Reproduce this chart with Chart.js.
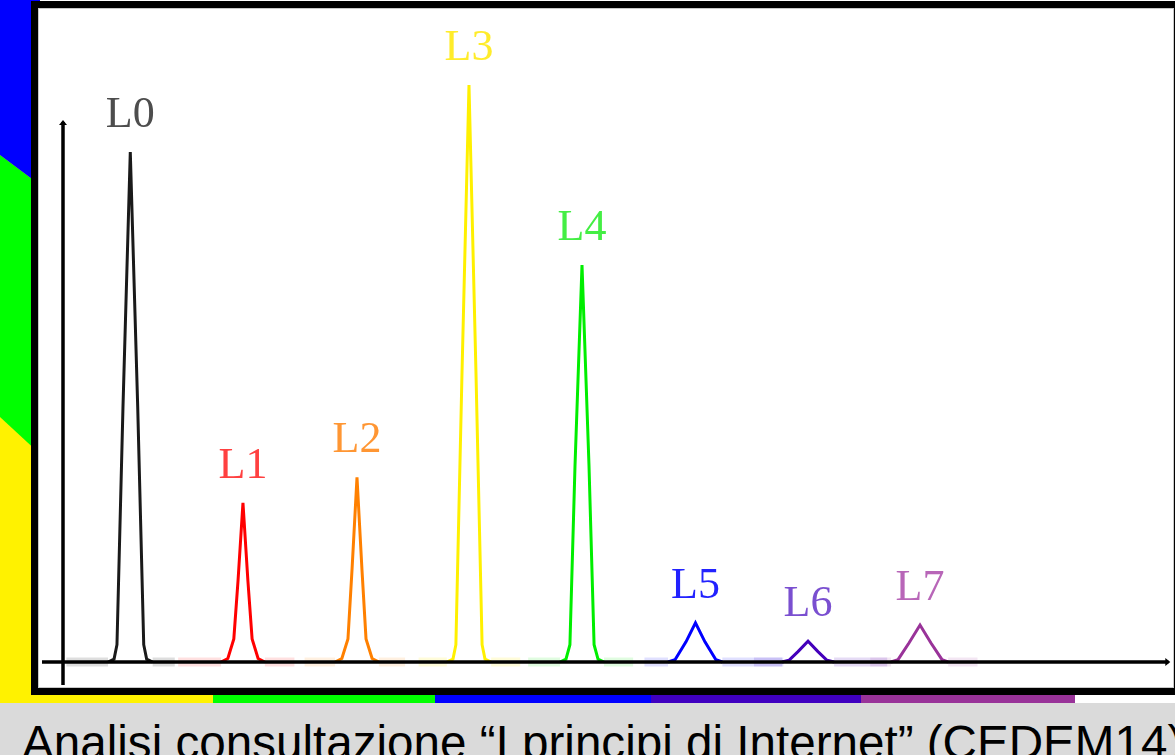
<!DOCTYPE html>
<html>
<head>
<meta charset="utf-8">
<script src="https://cdn.jsdelivr.net/npm/chart.js@4.4.1/dist/chart.umd.min.js"></script>
<style>
  html, body { margin: 0; padding: 0; }
  body { width: 1175px; height: 755px; position: relative; overflow: hidden; background: #fff; }
  .strip { position: absolute; }
  #leftYellow { left: 0; top: 0; width: 40px; height: 703px; background: #fff200; }
  #leftGreen { left: 0; top: 0; width: 40px; height: 703px; background: #00ff00;
    clip-path: polygon(0 155px, 40px 185px, 40px 454px, 0 417px); }
  #leftBlue { left: 0; top: 0; width: 40px; height: 703px; background: #0000ff;
    clip-path: polygon(0 0, 40px 0, 40px 185px, 0 155px); }
  #bottomStrip { left: 0; top: 690px; width: 1175px; height: 13px;
    background: linear-gradient(to right, #fff200 0, #fff200 213px, #00ff00 213px, #00ff00 435px,
      #0000ff 435px, #0000ff 651px, #4000c0 651px, #4000c0 861px, #993399 861px, #993399 1075px,
      #ffffff 1075px); }
  #frame { position: absolute; left: 31px; top: 1px; width: 1150px; height: 694px;
    box-sizing: border-box; border: 7px solid #000; background: #fff;
    box-shadow: inset 0 0 0 1px #c8c8c8; }
  #band { position: absolute; left: 0; top: 703px; width: 1175px; height: 52px; background: #dadada; }
  #caption { position: absolute; left: 22px; top: 719px; font-family: "Liberation Sans", Arial, sans-serif;
    font-size: 47.6px; line-height: 47px; color: #000; white-space: nowrap; }
  #chart { position: absolute; left: 0; top: 0; }
</style>
</head>
<body>
<div class="strip" id="leftYellow"></div>
<div class="strip" id="leftGreen"></div>
<div class="strip" id="leftBlue"></div>
<div class="strip" id="bottomStrip"></div>
<div id="frame"></div>
<div id="band"></div>
<div id="caption">Analisi consultazione “I principi di Internet” (CEDEM14)</div>
<canvas id="chart" width="1175" height="755"></canvas>
<script>
// peak names, as written above each peak
const peakNames = ['L0', 'L1', 'L2', 'L3', 'L4', 'L5', 'L6', 'L7'];

// peak profiles: [position, intensity]
const peakL0 = [[0.3, 0], [3.99, 0], [4.52, 0.5], [4.78, 3], [5.31, 44], [5.96, 88.4], [6.62, 44], [7.15, 3], [7.41, 0.5], [7.94, 0], [9.9, 0]];
const peakL1 = [[10.2, 0], [14.0, 0], [14.6, 0.6], [15.13, 4], [15.5, 14], [15.94, 27.6], [16.38, 14], [16.75, 4], [17.28, 0.6], [17.88, 0], [20.5, 0]];
const peakL2 = [[21.4, 0], [24.1, 0], [24.7, 0.6], [25.24, 4], [25.6, 16], [26.04, 32], [26.48, 16], [26.84, 4], [27.38, 0.6], [27.98, 0], [30.3, 0]];
const peakL3 = [[31.5, 0], [34.0, 0], [34.54, 0.5], [34.8, 3], [35.34, 50], [35.96, 100], [36.58, 50], [37.12, 3], [37.38, 0.5], [37.92, 0], [40.5, 0]];
const peakL4 = [[41.2, 0], [44.02, 0], [44.55, 0.5], [44.9, 3], [45.35, 34], [45.97, 68.8], [46.59, 34], [47.04, 3], [47.39, 0.5], [47.92, 0], [50.5, 0]];
const peakL5 = [[51.5, 0], [53.59, 0], [54.21, 0.4], [55.18, 3.5], [56.02, 6.8], [56.86, 3.5], [57.83, 0.4], [58.4, 0], [63.8, 0]];
const peakL6 = [[61.2, 0], [63.69, 0], [64.3, 0.3], [65.1, 1.8], [65.99, 3.6], [66.87, 1.8], [67.67, 0.3], [68.3, 0], [73, 0]];
const peakL7 = [[71.5, 0], [73.34, 0], [73.96, 0.4], [74.93, 3.3], [75.91, 6.4], [76.88, 3.3], [77.86, 0.4], [78.4, 0], [81.0, 0]];
const peaks = [peakL0, peakL1, peakL2, peakL3, peakL4, peakL5, peakL6, peakL7];

const lineColors = ['#1a1a1a', '#ff0000', '#ff8000', '#fff000', '#00ee00', '#0000ff', '#4400bb', '#993399'];
const paleColors = ['rgba(0,0,0,0.13)', 'rgba(255,0,0,0.12)', 'rgba(255,128,0,0.12)', 'rgba(255,235,0,0.15)',
  'rgba(0,230,0,0.12)', 'rgba(0,0,255,0.12)', 'rgba(68,0,187,0.14)', 'rgba(153,51,153,0.12)'];
const labelColors = ['#4d4d4d', '#ff4040', '#ff9633', '#ffec2a', '#44ee44', '#2222ff', '#7a4fd0', '#b866b8'];

// axis extents (in data units)
const xAxisRange = [-1.86, 97.9];
const yAxisRange = [-4, 93.6];

const datasets = peaks.map((pts, i) => ({
  label: peakNames[i],
  data: pts.map(p => ({ x: p[0], y: p[1] })),
  borderColor: lineColors[i],
  borderWidth: 3,
  pointRadius: 0,
  tension: 0,
  fill: false,
  segment: {
    borderColor: ctx => (ctx.p0.parsed.y === 0 && ctx.p1.parsed.y === 0) ? paleColors[i] : lineColors[i],
    borderWidth: ctx => (ctx.p0.parsed.y === 0 && ctx.p1.parsed.y === 0) ? 9 : 3
  }
}));

const axesPlugin = {
  id: 'mathAxes',
  afterDatasetsDraw(chart) {
    const { ctx, scales: { x, y } } = chart;
    const x0 = x.getPixelForValue(0);
    const y0 = y.getPixelForValue(0);
    ctx.save();
    ctx.strokeStyle = '#000';
    ctx.fillStyle = '#000';
    ctx.lineWidth = 3.5;
    ctx.beginPath();
    ctx.moveTo(x.getPixelForValue(xAxisRange[0]), y0);
    ctx.lineTo(x.getPixelForValue(xAxisRange[1]), y0);
    ctx.stroke();
    ctx.beginPath();
    ctx.moveTo(x0, y.getPixelForValue(yAxisRange[0]));
    ctx.lineTo(x0, y.getPixelForValue(yAxisRange[1]));
    ctx.stroke();
    // tiny arrow tips
    const yt = y.getPixelForValue(yAxisRange[1]);
    ctx.beginPath();
    ctx.moveTo(x0 - 4, yt + 3); ctx.lineTo(x0, yt - 2); ctx.lineTo(x0 + 4, yt + 3);
    ctx.fill();
    const xr = x.getPixelForValue(xAxisRange[1]);
    ctx.beginPath();
    ctx.moveTo(xr - 3, y0 - 4); ctx.lineTo(xr + 2, y0); ctx.lineTo(xr - 3, y0 + 4);
    ctx.fill();
    ctx.restore();

    // peak names above each maximum
    ctx.save();
    ctx.font = '44px "Liberation Serif", "Times New Roman", serif';
    ctx.textAlign = 'center';
    ctx.textBaseline = 'alphabetic';
    chart.data.datasets.forEach((ds, i) => {
      const meta = chart.getDatasetMeta(i);
      let top = meta.data[0];
      meta.data.forEach(el => { if (el.y < top.y) top = el; });
      ctx.fillStyle = labelColors[i];
      ctx.fillText(ds.label, top.x, top.y - 25);
    });
    ctx.restore();
  }
};

new Chart(document.getElementById('chart'), {
  type: 'line',
  data: { datasets },
  options: {
    responsive: false,
    animation: false,
    layout: { padding: { left: 40.42, right: 5.58, top: 15.76, bottom: 64.15 } },
    scales: {
      x: { type: 'linear', min: -2, max: 98, display: false },
      y: { type: 'linear', min: -5, max: 112, display: false }
    },
    plugins: { legend: { display: false }, tooltip: { enabled: false } }
  },
  plugins: [axesPlugin]
});
</script>
</body>
</html>
